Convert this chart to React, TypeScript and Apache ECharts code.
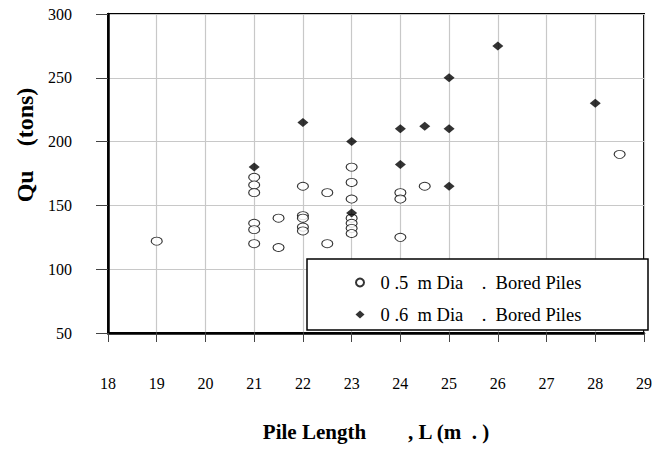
import React, { useEffect, useRef } from "react";
import * as echarts from "echarts";

const SERIES_05 = "0 .5  m Dia    .  Bored Piles";
const SERIES_06 = "0 .6  m Dia    .  Bored Piles";

const pile05: [number, number][] = [
  [19, 122],
  [21, 172], [21, 166], [21, 160], [21, 136], [21, 131], [21, 120],
  [21.5, 140], [21.5, 117],
  [22, 165], [22, 142], [22, 140], [22, 133], [22, 130],
  [22.5, 160], [22.5, 120],
  [23, 180], [23, 168], [23, 155], [23, 140], [23, 136], [23, 132], [23, 128],
  [24, 160], [24, 155], [24, 125],
  [24.5, 165],
  [28.5, 190],
];

const pile06: [number, number][] = [
  [21, 180],
  [22, 215],
  [23, 200], [23, 144],
  [24, 210], [24, 182],
  [24.5, 212],
  [25, 250], [25, 210], [25, 165],
  [26, 275],
  [28, 230],
];

const X_MIN = 18, X_MAX = 29, X_STEP = 1;
const Y_MIN = 50, Y_MAX = 300, Y_STEP = 50;

const X_TITLE = "Pile Length        , L (m  . )";
const Y_TITLE = "Qu    (tons)";

const SERIF = "Liberation Serif, Times New Roman, Times, serif";

export default function App() {
  const ref = useRef<HTMLDivElement>(null);
  useEffect(() => {
    if (!ref.current) return;
    const chart = echarts.init(ref.current, undefined, { renderer: "svg" });
    chart.setOption({
      animation: false,
      backgroundColor: "#fff",
      textStyle: { fontFamily: SERIF },
      grid: {
        left: 108, right: 7, top: 14, bottom: 121,
        show: true, borderColor: "#000", borderWidth: 2, backgroundColor: "transparent",
      },
      xAxis: {
        type: "value", min: X_MIN, max: X_MAX, interval: X_STEP,
        name: X_TITLE, nameLocation: "middle", nameGap: 88,
        nameTextStyle: { fontFamily: SERIF, fontSize: 21, fontWeight: "bold", color: "#000" },
        axisLine: { show: true, onZero: false, lineStyle: { color: "#000", width: 2.5 } },
        axisTick: { show: true, inside: false, length: 9, lineStyle: { color: "#444", width: 1 } },
        axisLabel: { fontFamily: SERIF, fontWeight: "normal", fontSize: 16, color: "#000", margin: 42 },
        splitLine: { show: true, lineStyle: { color: "#c8c8c8", width: 1.2 } },
      },
      yAxis: {
        type: "value", min: Y_MIN, max: Y_MAX, interval: Y_STEP,
        axisLine: { show: true, onZero: false, lineStyle: { color: "#000", width: 2.5 } },
        axisTick: { show: true, inside: false, length: 12, lineStyle: { color: "#444", width: 1 } },
        axisLabel: { fontFamily: SERIF, fontWeight: "normal", fontSize: 16, color: "#000", margin: 36 },
        splitLine: { show: true, lineStyle: { color: "#c8c8c8", width: 1.2 } },
      },
      legend: {
        show: true,
        orient: "vertical",
        left: 355, top: 273,
        padding: 0,
        itemWidth: 9, itemHeight: 8, itemGap: 13,
        z: 20,
        textStyle: { fontFamily: SERIF, fontWeight: "normal", fontSize: 18.5, color: "#000", lineHeight: 18, padding: [0, 0, 0, 11] },
        data: [SERIES_05, SERIES_06],
      },
      graphic: [
        {
          type: "rect", z: 10,
          shape: { x: 307, y: 259, width: 341, height: 71 },
          style: { fill: "#fff", stroke: "#000", lineWidth: 1.5 },
        },
        {
          type: "text", z: 10,
          x: 25, y: 145, rotation: Math.PI / 2,
          style: {
            text: Y_TITLE, fontFamily: SERIF, fontSize: 24, fontWeight: "bold",
            fill: "#000", align: "center", verticalAlign: "middle",
          },
        },
      ],
      series: [
        {
          name: SERIES_05, type: "scatter", data: pile05,
          symbol: "circle", symbolSize: [11, 8],
          itemStyle: { color: "#fff", borderColor: "#000", borderWidth: 1 },
          z: 3,
        },
        {
          name: SERIES_06, type: "scatter", data: pile06,
          symbol: "diamond", symbolSize: [11, 9],
          itemStyle: { color: "#000" },
          z: 4,
        },
      ],
    });
    return () => chart.dispose();
  }, []);
  return <div ref={ref} style={{ width: 655, height: 454, position: "absolute", left: 0, top: 0 }} />;
}
